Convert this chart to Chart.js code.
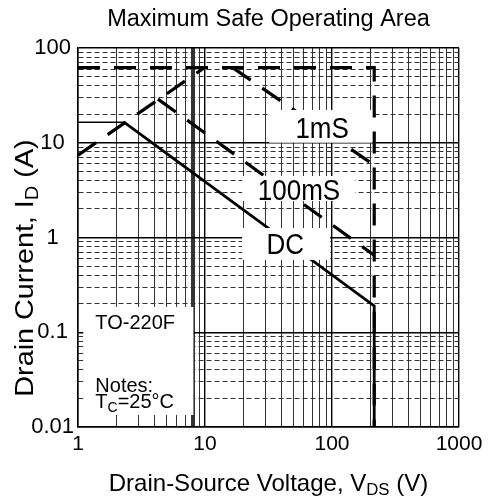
<!DOCTYPE html>
<html><head><meta charset="utf-8">
<script src="https://cdn.jsdelivr.net/npm/chart.js@4.4.0/dist/chart.umd.min.js"></script>
<style>html,body{margin:0;padding:0;background:#fff}</style>
</head><body>
<canvas id="c" width="489" height="502"></canvas>
<script>
// ---- data ----
const xTickValues = [1, 10, 100, 1000];
const xTickLabels = ['1', '10', '100', '1000'];
const yTickValues = [0.01, 0.1, 1, 10, 100];
const yTickLabels = ['0.01', '0.1', '1', '10', '100'];

const limitV = [1, 215, 215];        // pulse current limit + BVDSS
const limitI = [62, 62, 0.01];
const rdsV = [1, 9.9];               // RDS(on) limit
const rdsI = [7.4, 62];
const ms1V = [16.5, 215];            // 1mS
const ms1I = [62, 5.8];
const ms100V = [4.26, 215];          // 100mS
const ms100I = [28.9, 0.65];
const dcV = [1, 2.3, 215, 215];      // DC
const dcI = [16.5, 16.5, 0.19, 0.01];

const titleText = 'Maximum Safe Operating Area';
const xTitleParts = [{t:'Drain-Source Voltage, V'}, {t:'DS', sub:true}, {t:' (V)'}];
const yTitleParts = [{t:'Drain Current, I'}, {t:'D', sub:true}, {t:' (A)'}];

const FONT = "'Liberation Sans', Arial, Helvetica, sans-serif";

// annotation boxes (data coords of white boxes + text anchors)
const notes = [
  {box:[32, 207, 10, 22.2], lines:[{parts:[{t:'1mS'}], x:83.6, y:14.7}], size:26, sy:1.15, align:'center'},
  {box:[19.6, 152, 2.43, 4.46], lines:[{parts:[{t:'100mS'}], x:55, y:3.25}], size:26, sy:1.15, align:'center'},
  {box:[19.6, 96.6, 0.58, 1.26], lines:[{parts:[{t:'DC'}], x:42.8, y:0.875}], size:26, sy:1.15, align:'center'},
  {box:[1.1, 8.1, 0.0134, 0.185], lines:[
      {parts:[{t:'TO-220F'}], x:1.37, y:0.129},
      {parts:[{t:'Notes:'}], x:1.37, y:0.0281},
      {parts:[{t:'T'}, {t:'C', sub:true}, {t:'=25°C'}], x:1.37, y:0.019}
    ], size:20, sy:1.05, align:'left'}
];

function zip(xs, ys){ return xs.map((x,i)=>({x:x, y:ys[i]})); }
function isDecade(v){ const l = Math.log10(v); return Math.abs(l - Math.round(l)) < 1e-6; }
function decadeTicks(min, max){
  const out = [];
  for (let e = Math.round(Math.log10(min)); e < Math.round(Math.log10(max)); e++){
    for (let m = 1; m < 10; m++) out.push(m * Math.pow(10, e));
  }
  out.push(max);
  return out.map(v => ({value: v, major: isDecade(v)}));
}
function labelFor(values, labels, v){
  const i = values.findIndex(t => Math.abs(Math.log10(t) - Math.log10(v)) < 1e-6);
  return i >= 0 ? labels[i] : '';
}

function partsWidth(ctx, parts, size){
  let w = 0;
  for (const p of parts){ ctx.font = (p.sub ? size*0.7 : size) + 'px ' + FONT; w += ctx.measureText(p.t).width; }
  return w;
}
// draws text centred vertically at cy; sx/sy stretch the glyphs
function drawParts(ctx, parts, x, cy, size, align, sx, sy){
  sx = sx || 1; sy = sy || 1;
  const w = partsWidth(ctx, parts, size);
  ctx.save();
  ctx.translate(x, cy);
  ctx.scale(sx, sy);
  let cx = align === 'center' ? -w/2 : 0;
  const base = size*0.36;
  ctx.textAlign = 'left';
  ctx.textBaseline = 'alphabetic';
  ctx.fillStyle = '#000';
  for (const p of parts){
    const s = p.sub ? size*0.7 : size;
    ctx.font = s + 'px ' + FONT;
    ctx.fillText(p.t, cx, p.sub ? base + size*0.2 : base);
    cx += ctx.measureText(p.t).width;
  }
  ctx.restore();
}

const overlay = {
  id: 'overlay',
  afterDatasetsDraw(chart){
    const ctx = chart.ctx, xs = chart.scales.x, ys = chart.scales.y;
    ctx.save();
    for (const n of notes){
      const x0 = xs.getPixelForValue(n.box[0]), x1 = xs.getPixelForValue(n.box[1]);
      const y0 = ys.getPixelForValue(n.box[3]), y1 = ys.getPixelForValue(n.box[2]);
      ctx.fillStyle = '#fff';
      ctx.fillRect(x0, y0, x1 - x0, y1 - y0);
      for (const ln of n.lines){
        drawParts(ctx, ln.parts, xs.getPixelForValue(ln.x), ys.getPixelForValue(ln.y), n.size, n.align, 1, n.sy);
      }
    }
    ctx.restore();
  },
  afterDraw(chart){
    const ctx = chart.ctx, a = chart.chartArea;
    ctx.save();
    const cxp = (a.left + a.right) / 2;
    drawParts(ctx, [{t:titleText}], cxp, 18, 23.5, 'center');
    drawParts(ctx, xTitleParts, cxp, 482, 24, 'center');
    ctx.translate(24, 268);
    ctx.rotate(-Math.PI/2);
    drawParts(ctx, yTitleParts, 0, 0, 25, 'center', 1.15, 1);
    ctx.restore();
  }
};

const lineDs = (data, opts) => Object.assign({
  data: data, showLine: true, pointRadius: 0, borderColor: '#000', backgroundColor: '#000',
  fill: false, tension: 0, borderWidth: 3
}, opts);

new Chart(document.getElementById('c'), {
  type: 'scatter',
  data: {
    datasets: [
      lineDs(zip(limitV, limitI), {borderDash:[22,14], borderWidth:3.2}),
      lineDs(zip(rdsV, rdsI), {borderDash:[22,14], borderWidth:3.2}),
      lineDs(zip(ms1V, ms1I), {borderDash:[22,14], borderWidth:3.2}),
      lineDs(zip(ms100V, ms100I), {borderDash:[22,14], borderWidth:3.2}),
      lineDs(zip(dcV, dcI), {borderWidth:2.8, segment:{borderWidth: c => c.p0DataIndex === 0 ? 1.5 : 2.8}})
    ]
  },
  options: {
    responsive: false,
    animation: false,
    events: [],
    layout: {padding: {left: 0, right: 30, top: 48, bottom: 0}},
    plugins: {legend: {display: false}, tooltip: {enabled: false}},
    scales: {
      x: {
        type: 'logarithmic', min: 1, max: 1000,
        afterBuildTicks(s){ s.ticks = decadeTicks(1, 1000); },
        afterFit(s){ s.height = 75; },
        grid: {
          drawTicks: false,
          color: c => (c.tick && isDecade(c.tick.value)) ? '#000' : '#333',
          lineWidth: c => !c.tick ? 1 : (Math.abs(c.tick.value - 8) < 1e-6 ? 4 : (isDecade(c.tick.value) ? 1.4 : 1))
        },
        border: {color: '#000', width: 1.5},
        ticks: {
          autoSkip: false, maxRotation: 0, padding: 5, color: '#000',
          font: {family: FONT, size: 21},
          callback: v => labelFor(xTickValues, xTickLabels, v)
        }
      },
      y: {
        type: 'logarithmic', min: 0.01, max: 100,
        afterBuildTicks(s){ s.ticks = decadeTicks(0.01, 100); },
        afterFit(s){ s.width = 78; },
        grid: {
          drawTicks: false,
          color: c => (c.tick && isDecade(c.tick.value)) ? '#000' : '#333',
          lineWidth: c => (c.tick && isDecade(c.tick.value)) ? 1.4 : 1
        },
        border: {color: '#000', width: 1.5, dash: c => (c.tick && !isDecade(c.tick.value)) ? [5, 3] : []},
        ticks: {
          autoSkip: false, padding: 4, color: '#000', crossAlign: 'center',
          font: {family: FONT, size: 22},
          callback: v => labelFor(yTickValues, yTickLabels, v)
        }
      }
    }
  },
  plugins: [overlay]
});
</script>
</body></html>
